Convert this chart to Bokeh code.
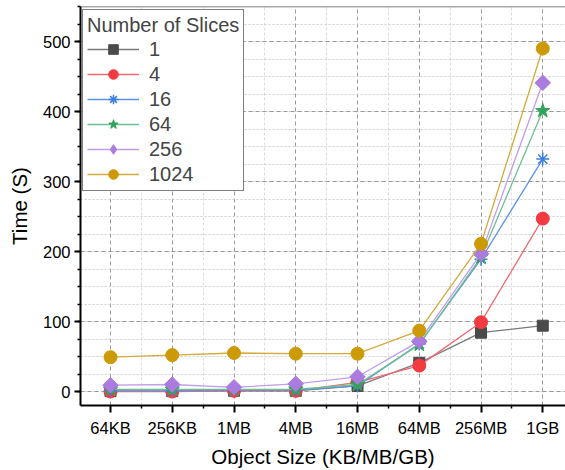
import math
from bokeh.plotting import figure
from bokeh.models import FixedTicker, Legend, LegendItem, Span, Range1d
from bokeh.embed import file_html
from bokeh.resources import INLINE

categories = ["64KB", "256KB", "1MB", "4MB", "16MB", "64MB", "256MB", "1GB"]
slices = ["1", "4", "16", "64", "256", "1024"]
s1 = [0.5, 0.5, 1, 1, 8, 41, 84, 94]
s4 = [0, 0, 1, 1, 13, 37, 99, 247]
s16 = [1, 1, 2, 2, 8, 68, 189, 332]
s64 = [3, 3, 3, 3, 10, 67, 192, 401]
s256 = [9, 10, 6, 11, 21, 72, 197, 441]
s1024 = [49, 52, 55, 54, 54, 87, 211, 490]
y_ticks = [0, 100, 200, 300, 400, 500]

series = [s1, s4, s16, s64, s256, s1024]
marker_colors = ["#4a4a4a", "#f23b40", "#3d7fe0", "#2fa55a", "#ab7be0", "#cc9a06"]
line_colors = ["#7a7a7a", "#f26a6e", "#5a92e6", "#6cc08e", "#c19ded", "#d4aa3a"]
markers = ["square", "circle", "asterisk", "star", "diamond", "circle"]
msizes = [11, 13, 13, 15, 11, 13]

xs = list(range(len(categories)))

p = figure(width=565, height=470, output_backend="svg", toolbar_location=None,
           x_range=Range1d(-0.486, 7.368), y_range=Range1d(-20, 550),
           min_border_left=80, min_border_top=6, min_border_right=0, min_border_bottom=65)
p.background_fill_color = "white"
p.border_fill_color = "white"
p.outline_line_color = None

xt = FixedTicker(ticks=xs, minor_ticks=[i + 0.5 for i in range(-1, 8)])
yt = FixedTicker(ticks=y_ticks, minor_ticks=[v for v in range(-25, 551, 25)])
p.xaxis.ticker = xt
p.yaxis.ticker = yt
p.xaxis.major_label_overrides = {i: c for i, c in enumerate(categories)}

for ax in (p.xaxis[0], p.yaxis[0]):
    ax.axis_line_width = 2
    ax.axis_line_color = "black"
    ax.major_tick_line_width = 2
    ax.minor_tick_line_width = 1.5
    ax.major_tick_line_color = "black"
    ax.minor_tick_line_color = "black"
    ax.major_tick_in = 0
    ax.minor_tick_in = 0
    ax.major_label_text_font = "Liberation Sans"
    ax.major_label_text_font_size = "16.5px"
    ax.major_label_text_color = "black"
    ax.axis_label_text_font = "Liberation Sans"
    ax.axis_label_text_font_size = "20.5px"
    ax.axis_label_text_font_style = "normal"
    ax.axis_label_text_color = "black"

p.xaxis.major_tick_out = 7
p.xaxis.minor_tick_out = 3
p.xaxis.major_label_standoff = 6
p.xaxis.axis_label_standoff = 5
p.yaxis.major_tick_out = 6
p.yaxis.minor_tick_out = 3
p.yaxis.major_label_standoff = 4
p.yaxis.axis_label_standoff = 9
p.xaxis.axis_label = "Object Size (KB/MB/GB)"
p.yaxis.axis_label = "Time (S)"

p.xgrid.grid_line_color = "#9a9a9a"
p.xgrid.grid_line_dash = "4 3"
p.xgrid.grid_line_width = 1
p.xgrid.minor_grid_line_color = "#dddddd"
p.xgrid.minor_grid_line_dash = "3 2"
p.xgrid.minor_grid_line_width = 1
p.ygrid.grid_line_color = "#9a9a9a"
p.ygrid.grid_line_dash = "4 3"
p.ygrid.grid_line_width = 1
p.ygrid.minor_grid_line_color = "#cfcfcf"
p.ygrid.minor_grid_line_dash = "2 2"
p.ygrid.minor_grid_line_width = 1

items = []
for name, ys, mc, lc, mk, ms in zip(slices, series, marker_colors, line_colors, markers, msizes):
    ln = p.line(xs, ys, line_color=lc, line_width=1.3)
    if mk == "asterisk":
        sc = p.scatter(xs, ys, marker=mk, size=ms, line_color=mc, line_width=1.5)
    elif mk == "diamond":
        # legend glyph (hidden under the rotated square in the plot)
        sc = p.scatter(xs, ys, marker="diamond", size=13, fill_color=mc, line_color=mc)
        p.scatter(xs, ys, marker="square", size=ms, angle=math.pi / 4,
                  fill_color=mc, line_color=mc)
    else:
        sc = p.scatter(xs, ys, marker=mk, size=ms, fill_color=mc, line_color=mc)
    items.append(LegendItem(label=name, renderers=[ln, sc]))

p.add_layout(Span(location=550, dimension="width", line_color="#555555", line_width=1.5))

legend = Legend(items=items, location=(2, 214), margin=0, padding=4,
                title="Number of Slices", title_text_font="Liberation Sans",
                title_text_font_size="20px", title_text_font_style="normal",
                title_standoff=0,
                label_text_font="Liberation Sans", label_text_font_size="20px",
                label_height=20, glyph_height=24, glyph_width=52, spacing=1,
                label_standoff=10,
                border_line_color="black", border_line_width=1.5,
                background_fill_color="white", background_fill_alpha=1)
p.add_layout(legend, "center")

open("out.html", "w").write(file_html(p, INLINE))
